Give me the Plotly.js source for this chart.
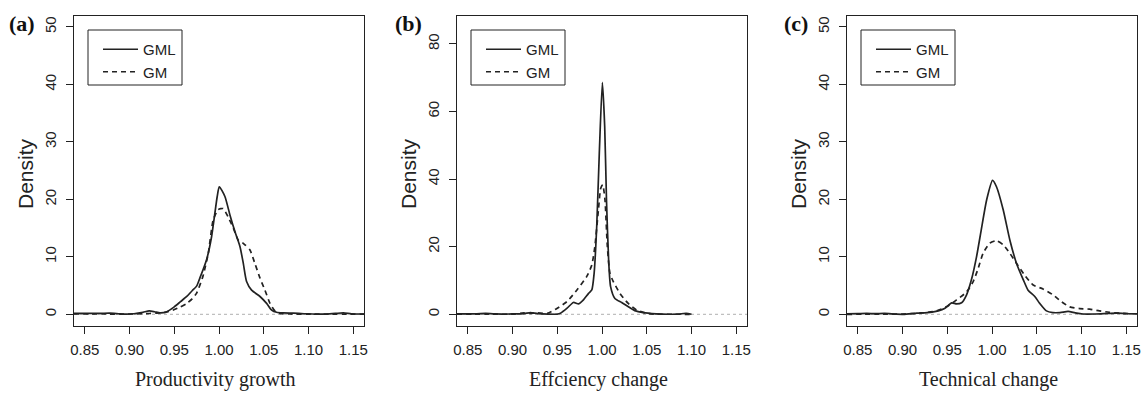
<!DOCTYPE html>
<html>
<head>
<meta charset="utf-8">
<script src="https://cdn.plot.ly/plotly-3.0.1.min.js"></script>
<style>html,body{margin:0;padding:0;background:#fff;}#chart{width:1147px;height:394px;}</style>
</head>
<body>
<div id="chart"></div>
<script>
// ---- Data ----
const seriesNames = ["GML", "GM"];
const panelLabels = ["(a)", "(b)", "(c)"];
const xTitles = ["Productivity growth", "Effciency change", "Technical change"];
const xTickVals = [0.85, 0.90, 0.95, 1.00, 1.05, 1.10, 1.15];
const xTickText = ["0.85", "0.90", "0.95", "1.00", "1.05", "1.10", "1.15"];

// (a) Productivity growth
const prodX_GML = [0.838,0.85,0.86,0.87,0.878,0.888,0.897,0.905,0.915,0.922,0.928,0.934,0.941,0.95,0.957,0.964,0.97,0.975,0.9786,0.9861,0.9917,0.9954,0.998,1.0003,1.0066,1.0122,1.0178,1.0234,1.0271,1.0308,1.0364,1.0458,1.0532,1.0588,1.0644,1.072,1.083,1.095,1.105,1.113,1.12,1.13,1.139,1.148,1.162];
const prodY_GML = [0.15,0.17,0.15,0.18,0.2,0.1,0.02,0.1,0.35,0.6,0.45,0.25,0.4,1.3,2.2,3.1,4.1,4.9,6.3,9.5,13.5,17.6,20.5,22.2,20.5,17.3,14.4,11.8,8.9,5.7,4.2,3.1,1.9,0.75,0.35,0.25,0.2,0.1,0.05,0.02,0.05,0.15,0.25,0.1,0.05];
const prodX_GM = [0.838,0.87,0.9,0.915,0.93,0.94,0.949,0.957,0.964,0.97,0.975,0.982,0.988,0.9935,0.999,1.0047,1.010,1.016,1.0215,1.026,1.029,1.0346,1.040,1.0458,1.0513,1.057,1.0625,1.068,1.08,1.1,1.162];
const prodY_GM = [0.05,0.05,0.05,0.1,0.2,0.35,0.75,1.3,1.9,2.7,3.7,6.6,10.6,16.4,18.2,18.4,17.0,15.0,12.9,12.5,12.1,11.2,8.9,6.3,4.2,1.9,0.6,0.15,0.05,0.03,0.03];

// (b) Efficiency change
const effX_GML = [0.838,0.86,0.87,0.88,0.9,0.913,0.92,0.928,0.94,0.95,0.9535,0.961,0.968,0.974,0.979,0.985,0.9886,0.9912,0.9941,0.997,1.0004,1.003,1.005,1.0074,1.0096,1.0144,1.022,1.029,1.0366,1.046,1.0606,1.075,1.085,1.094,1.1];
const effY_GML = [0.1,0.15,0.25,0.1,0.1,0.2,0.5,0.2,0.05,0.05,0.3,1.8,3.5,3.1,4.2,6.2,7.2,12.1,26,47.7,68.6,55.6,33.9,16.1,8.2,4.7,3.5,2.3,1.1,0.5,0.15,0.02,0.05,0.3,0.02];
const effX_GM = [0.838,0.87,0.9,0.913,0.92,0.928,0.939,0.95,0.961,0.972,0.983,0.9886,0.992,0.996,0.9986,1.0008,1.0033,1.006,1.0089,1.0126,1.02,1.029,1.0385,1.0496,1.06,1.08,1.1];
const effY_GM = [0.05,0.05,0.05,0.4,0.3,0.4,0.3,1.8,3.8,7.2,11.2,14.6,20,30.9,37.3,38.3,33.9,20,12.1,9.7,6.2,3.3,1.3,0.3,0.05,0.02,0.0];

// (c) Technical change
const techX_GML = [0.838,0.85,0.86,0.87,0.88,0.8935,0.901,0.916,0.931,0.94,0.947,0.955,0.9604,0.966,0.9716,0.977,0.9827,0.988,0.994,1.0006,1.005,1.0125,1.02,1.0273,1.035,1.0403,1.0478,1.0533,1.0608,1.068,1.076,1.085,1.093,1.1017,1.115,1.13,1.14,1.15,1.162];
const techY_GML = [0.1,0.12,0.15,0.12,0.15,0.02,0.0,0.2,0.35,0.6,1.0,2.0,1.8,2.0,3.4,6.0,10.0,14.7,19.9,23.3,22.2,18.2,12.9,8.9,6.0,4.2,3.1,1.9,0.6,0.3,0.3,0.5,0.25,0.05,0.05,0.15,0.2,0.1,0.1];
const techX_GM = [0.838,0.87,0.9,0.9195,0.938,0.949,0.9604,0.9716,0.979,0.9846,0.990,0.9976,1.005,1.0125,1.02,1.0273,1.0366,1.046,1.057,1.068,1.0775,1.0868,1.098,1.109,1.12,1.131,1.1426,1.157,1.162];
const techY_GM = [0.0,0.02,0.05,0.2,0.6,1.3,2.5,3.9,5.7,8.0,10.6,12.4,12.8,12.1,10.6,8.9,6.8,5.1,4.4,3.4,2.2,1.3,1.0,0.9,0.6,0.35,0.2,0.1,0.1];

// ---- Layout helpers ----
const W = 1147, H = 394;
const fx = p => p / W;
const fy = p => 1 - p / H;
const boxes = [[74, 364], [457, 747], [847, 1137]];
const boxTop = 15.5, boxBottom = 325.8;
const yRanges = [[-2, 52], [-3.4, 88.4], [-2, 52]];
const yDticks = [10, 20, 10];
const lineColor = "#222";
const sans = "Liberation Sans, Arial, sans-serif";
const serif = "Liberation Serif, Times New Roman, serif";

const panels = [
  [prodX_GML, prodY_GML, prodX_GM, prodY_GM],
  [effX_GML, effY_GML, effX_GM, effY_GM],
  [techX_GML, techY_GML, techX_GM, techY_GM]
];

const traces = [];
const layout = {
  width: W, height: H,
  margin: {l: 0, r: 0, t: 0, b: 0},
  paper_bgcolor: "#fff", plot_bgcolor: "#fff",
  showlegend: true,
  shapes: [], annotations: []
};

panels.forEach((p, i) => {
  const sfx = i === 0 ? "" : String(i + 1);
  const legendName = "legend" + sfx;
  traces.push({
    x: p[0], y: p[1], type: "scatter", mode: "lines", name: seriesNames[0],
    xaxis: "x" + sfx, yaxis: "y" + sfx, legend: legendName,
    line: {color: lineColor, width: 1.7, shape: "spline", smoothing: 0.6},
    hoverinfo: "skip"
  });
  traces.push({
    x: p[2], y: p[3], type: "scatter", mode: "lines", name: seriesNames[1],
    xaxis: "x" + sfx, yaxis: "y" + sfx, legend: legendName,
    line: {color: lineColor, width: 1.7, dash: "5px,4px", shape: "spline", smoothing: 0.6},
    hoverinfo: "skip"
  });

  const [bl, br] = boxes[i];
  layout["xaxis" + sfx] = {
    domain: [fx(bl), fx(br)], anchor: "y" + sfx,
    range: [0.838, 1.162],
    tickvals: xTickVals, ticktext: xTickText,
    ticks: "outside", ticklen: 7, tickwidth: 1, tickcolor: lineColor,
    showline: true, mirror: true, linecolor: lineColor, linewidth: 1,
    showgrid: false, zeroline: false,
    tickfont: {family: sans, size: 15, color: lineColor},
    ticklabelstandoff: 3,
    fixedrange: true
  };
  layout["yaxis" + sfx] = {
    domain: [fy(boxBottom), fy(boxTop)], anchor: "x" + sfx,
    range: yRanges[i], tick0: 0, dtick: yDticks[i],
    ticks: "outside", ticklen: 7, tickwidth: 1, tickcolor: lineColor,
    showline: true, mirror: true, linecolor: lineColor, linewidth: 1,
    showgrid: false, zeroline: false,
    tickangle: -90,
    tickfont: {family: sans, size: 15, color: lineColor},
    ticklabelstandoff: 4,
    fixedrange: true
  };

  // gray zero line (as drawn by R's plot.density)
  layout.shapes.push({
    type: "line", xref: "x" + sfx + " domain", yref: "y" + sfx,
    x0: 0, x1: 1, y0: 0, y1: 0,
    line: {color: "#b0b0b0", width: 1, dash: "dot"}, layer: "below"
  });

  // legend frame
  const lx0 = bl + 14, lx1 = bl + 108;
  layout.shapes.push({
    type: "rect", xref: "paper", yref: "paper",
    x0: fx(lx0), x1: fx(lx1), y0: fy(85), y1: fy(30),
    line: {color: lineColor, width: 1}, fillcolor: "rgba(0,0,0,0)"
  });
  layout[legendName] = {
    x: fx(lx0 + 10), y: fy(33), xanchor: "left", yanchor: "top",
    bgcolor: "rgba(0,0,0,0)", borderwidth: 0,
    itemwidth: 35,
    font: {family: sans, size: 15, color: lineColor},
    tracegroupgap: 0, itemclick: false, itemdoubleclick: false
  };

  // panel label
  const labelX = [22, 408, 796][i];
  layout.annotations.push({
    xref: "paper", yref: "paper", x: fx(labelX), y: fy(23),
    xanchor: "center", yanchor: "middle", showarrow: false,
    text: "<b>" + panelLabels[i] + "</b>",
    font: {family: serif, size: 22, color: "#111"}
  });
  // y title
  layout.annotations.push({
    xref: "paper", yref: "paper", x: fx(bl - 49), y: fy(174),
    xanchor: "center", yanchor: "middle", showarrow: false,
    text: "Density", textangle: -90,
    font: {family: sans, size: 21, color: lineColor}
  });
  // x title
  layout.annotations.push({
    xref: "paper", yref: "paper", x: fx((bl + br) / 2 - 4), y: fy(379),
    xanchor: "center", yanchor: "middle", showarrow: false,
    text: xTitles[i],
    font: {family: serif, size: 20, color: lineColor}
  });
});

Plotly.newPlot("chart", traces, layout, {displayModeBar: false, staticPlot: true});
</script>
</body>
</html>
